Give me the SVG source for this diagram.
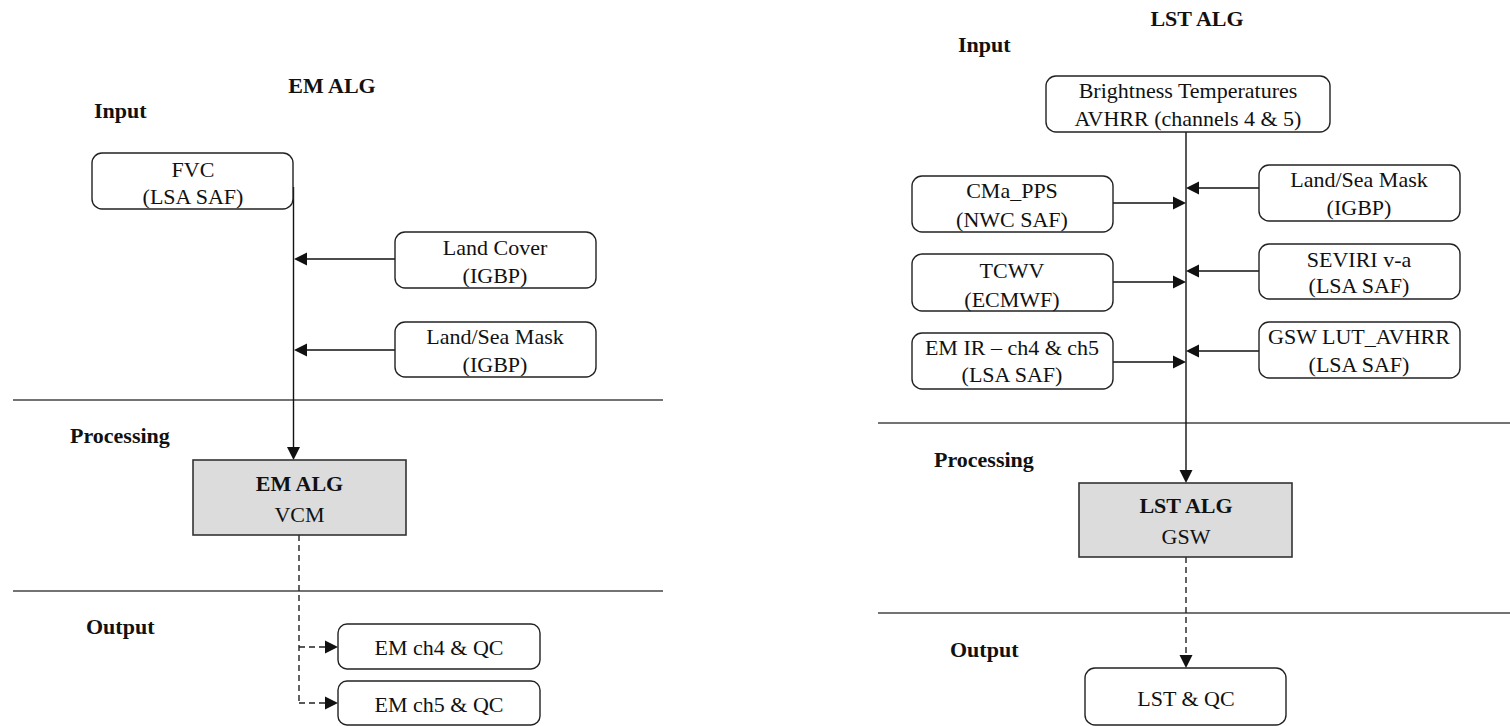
<svg xmlns="http://www.w3.org/2000/svg" width="1510" height="726" viewBox="0 0 1510 726">
<style>
text{font-family:"Liberation Serif","Times New Roman",Tinos,"DejaVu Serif",serif;font-size:22px;fill:#111;text-anchor:middle}
.b{font-weight:bold}
.l{text-anchor:start}
.box{fill:#fff;stroke:#222;stroke-width:1.4}
.alg{fill:#dcdcdc;stroke:#333;stroke-width:1.6}
.sep{stroke:#444;stroke-width:1.6;fill:none}
.c{stroke:#111;stroke-width:1.4;fill:none}
.d{stroke:#222;stroke-width:1.4;fill:none;stroke-dasharray:6,4}
.ah{fill:#111}
</style>
<defs>
<path id="ar" d="M0,0 L-13,-6.5 L-13,6.5 z"/>
</defs>
<rect width="1510" height="726" fill="#fff"/>

<g id="labels">
<text class="b" x="332" y="93">EM ALG</text>
<text class="b l" x="94" y="118">Input</text>
<text class="b l" x="70" y="443">Processing</text>
<text class="b l" x="86" y="634">Output</text>
<text class="b" x="1197" y="26">LST ALG</text>
<text class="b l" x="958" y="52">Input</text>
<text class="b l" x="934" y="467">Processing</text>
<text class="b l" x="950" y="657">Output</text>
</g>

<g id="separators">
<line class="sep" x1="13" y1="400" x2="663" y2="400"/>
<line class="sep" x1="13" y1="591" x2="663" y2="591"/>
<line class="sep" x1="878" y1="423" x2="1510" y2="423"/>
<line class="sep" x1="878" y1="613" x2="1510" y2="613"/>
</g>

<g id="connectors">
<line class="c" x1="293.5" y1="187" x2="293.5" y2="450"/>
<use href="#ar" class="ah" transform="translate(293.5,460) rotate(90)"/>
<line class="c" x1="395" y1="259" x2="304" y2="259"/>
<use href="#ar" class="ah" transform="translate(294,259) rotate(180)"/>
<line class="c" x1="395" y1="350" x2="304" y2="350"/>
<use href="#ar" class="ah" transform="translate(294,350) rotate(180)"/>
<path class="d" d="M299,535 V703"/>
<line class="d" x1="299" y1="647" x2="328" y2="647"/>
<use href="#ar" class="ah" transform="translate(338,647)"/>
<line class="d" x1="299" y1="703" x2="328" y2="703"/>
<use href="#ar" class="ah" transform="translate(338,703)"/>

<line class="c" x1="1186" y1="132" x2="1186" y2="473"/>
<use href="#ar" class="ah" transform="translate(1186,483) rotate(90)"/>
<line class="c" x1="1113" y1="203" x2="1176" y2="203"/>
<use href="#ar" class="ah" transform="translate(1186,203)"/>
<line class="c" x1="1113" y1="282" x2="1176" y2="282"/>
<use href="#ar" class="ah" transform="translate(1186,282)"/>
<line class="c" x1="1113" y1="362" x2="1176" y2="362"/>
<use href="#ar" class="ah" transform="translate(1186,362)"/>
<line class="c" x1="1259" y1="188" x2="1196" y2="188"/>
<use href="#ar" class="ah" transform="translate(1186,188) rotate(180)"/>
<line class="c" x1="1259" y1="271" x2="1196" y2="271"/>
<use href="#ar" class="ah" transform="translate(1186,271) rotate(180)"/>
<line class="c" x1="1259" y1="351" x2="1196" y2="351"/>
<use href="#ar" class="ah" transform="translate(1186,351) rotate(180)"/>
<line class="d" x1="1186" y1="557" x2="1186" y2="658"/>
<use href="#ar" class="ah" transform="translate(1186,668) rotate(90)"/>
</g>

<g id="fvc"><rect class="box" x="92" y="153" width="201" height="56" rx="10"/><text x="193" y="177">FVC</text><text x="193" y="204">(LSA SAF)</text></g>
<g id="landcover"><rect class="box" x="395" y="232" width="201" height="56" rx="10"/><text x="495" y="255">Land Cover</text><text x="495" y="283">(IGBP)</text></g>
<g id="landsea1"><rect class="box" x="395" y="322" width="201" height="55" rx="10"/><text x="495" y="344">Land/Sea Mask</text><text x="495" y="372">(IGBP)</text></g>
<g id="emalg"><rect class="alg" x="193" y="460" width="213" height="75"/><text class="b" x="299.5" y="491">EM ALG</text><text x="299.5" y="522">VCM</text></g>
<g id="emch4"><rect class="box" x="338" y="624" width="202" height="45" rx="9"/><text x="439" y="655">EM ch4 &amp; QC</text></g>
<g id="emch5"><rect class="box" x="338" y="681" width="202" height="44" rx="9"/><text x="439" y="712">EM ch5 &amp; QC</text></g>

<g id="bt"><rect class="box" x="1046" y="76" width="284" height="56" rx="10"/><text x="1188" y="98">Brightness Temperatures</text><text x="1188" y="126">AVHRR (channels 4 &amp; 5)</text></g>
<g id="cma"><rect class="box" x="912" y="176" width="201" height="56" rx="10"/><text x="1012" y="198">CMa_PPS</text><text x="1012" y="227">(NWC SAF)</text></g>
<g id="tcwv"><rect class="box" x="912" y="254" width="201" height="57" rx="10"/><text x="1012" y="278">TCWV</text><text x="1012" y="307">(ECMWF)</text></g>
<g id="emir"><rect class="box" x="912" y="333" width="201" height="56" rx="10"/><text x="1012" y="355">EM IR – ch4 &amp; ch5</text><text x="1012" y="382">(LSA SAF)</text></g>
<g id="landsea2"><rect class="box" x="1259" y="165" width="201" height="56" rx="10"/><text x="1359" y="187">Land/Sea Mask</text><text x="1359" y="215">(IGBP)</text></g>
<g id="seviri"><rect class="box" x="1259" y="244" width="201" height="55" rx="10"/><text x="1359" y="267">SEVIRI v-a</text><text x="1359" y="293">(LSA SAF)</text></g>
<g id="gswlut"><rect class="box" x="1259" y="322" width="201" height="56" rx="10"/><text x="1359" y="344">GSW LUT_AVHRR</text><text x="1359" y="372">(LSA SAF)</text></g>
<g id="lstalg"><rect class="alg" x="1079" y="483" width="213" height="74"/><text class="b" x="1186" y="513">LST ALG</text><text x="1186" y="544">GSW</text></g>
<g id="lstqc"><rect class="box" x="1085" y="668" width="201" height="57" rx="10"/><text x="1186" y="706">LST &amp; QC</text></g>
</svg>
